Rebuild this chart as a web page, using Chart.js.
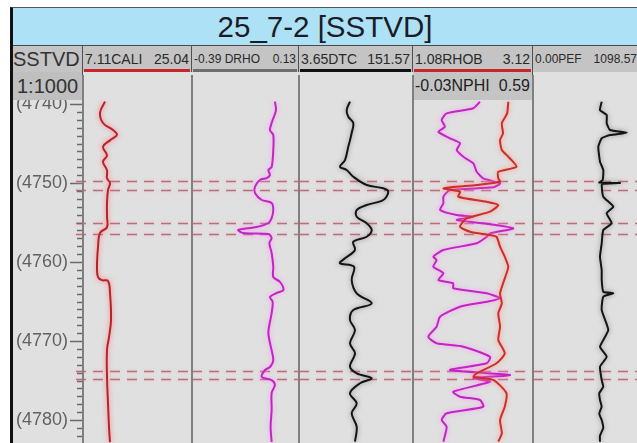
<!DOCTYPE html>
<html>
<head>
<meta charset="utf-8">
<title>25_7-2 [SSTVD]</title>
<script src="https://cdn.jsdelivr.net/npm/chart.js@4.4.1/dist/chart.umd.min.js"></script>
<style>
  html, body { margin: 0; padding: 0; background: #fff; }
  body { width: 637px; height: 443px; overflow: hidden; position: relative;
         font-family: "Liberation Sans", Arial, sans-serif; }
  .abs { position: absolute; box-sizing: border-box; }
  #frame { left: 10px; top: 7px; width: 640px; height: 440px;
           border-left: 3px solid #111; border-top: 1px solid #555; }
  #title { left: 13px; top: 8px; width: 624px; height: 38px; background: #ade2f6;
           border-bottom: 1px solid #4a4a4a; color: #1c1c28; font-size: 29.5px;
           line-height: 38px; text-align: center; }
  .hcell { background: #c4c4c4; color: #2a2a2a; display: flex; justify-content: space-between;
           align-items: center; padding: 0 2px 0 2px; white-space: nowrap; overflow: hidden;
           border-right: 1px solid #505050; }
  .track { background: #e0e0e0; }
  .sep { width: 2px; background: #808080; }
  canvas { position: absolute; }
</style>
</head>
<body>
<div id="frame" class="abs"></div>
<div id="title" class="abs">25_7-2 [SSTVD]</div>
<div id="layer"></div>
<script>
// ---- depth reference ----
const depthTop = 4739.49;
const depthBottom = 4782.91;
const depthTicks = [4740, 4750, 4760, 4770, 4780];
const markerDepths = [4749.75, 4750.9, 4755.1, 4756.4, 4773.8, 4774.8];

// ---- curve scale ranges (left, right) ----
const caliRange = [7.11, 25.04];
const drhoRange = [-0.39, 0.13];
const dtcRange = [3.65, 151.57];
const rhobRange = [1.08, 3.12];
const nphiRange = [-0.03, 0.59];
const pefRange = [0.00, 1098.57];

// ---- log samples: [depth, value] ----
const caliLog = [
  [4739.7, 10.73], [4741.1, 9.91], [4742.4, 10.40], [4743.3, 12.05], [4743.9, 12.70],
  [4744.6, 11.55], [4745.4, 10.40], [4746.5, 11.06], [4747.3, 10.40], [4748.4, 11.06],
  [4749.4, 11.06], [4750.0, 11.55], [4750.9, 11.22], [4752.5, 11.06], [4754.3, 11.06],
  [4755.6, 11.06], [4756.3, 9.91], [4758.1, 9.58], [4760.6, 9.41], [4761.9, 9.58],
  [4762.3, 10.24], [4762.4, 11.22], [4763.9, 11.55], [4767.3, 11.72], [4769.5, 11.39],
  [4771.1, 11.06], [4774.6, 11.06], [4777.8, 11.22], [4780.9, 11.39], [4782.8, 11.55]
];
const drhoLog = [
  [4739.71, 0.013], [4740.76, 0.018], [4742.41, -0.003], [4743.29, -0.011], [4743.92, 0.005],
  [4745.82, 0.005], [4747.97, -0.003], [4748.35, -0.019], [4748.99, -0.011], [4749.37, -0.027],
  [4749.62, -0.060], [4750.47, -0.084], [4751.27, -0.084], [4752.15, -0.051], [4752.53, -0.003],
  [4753.42, 0.005], [4754.43, -0.003], [4755.06, -0.019], [4755.57, -0.076], [4755.95, -0.165],
  [4756.33, -0.141], [4756.46, -0.019], [4756.96, -0.003], [4757.59, -0.014], [4758.86, -0.003],
  [4760.60, 0.005], [4761.90, 0.005], [4762.53, 0.038], [4763.54, 0.054], [4763.92, 0.022],
  [4764.43, -0.011], [4765.06, 0.002], [4766.46, -0.003], [4768.86, -0.019], [4770.25, -0.011],
  [4772.41, 0.005], [4773.29, -0.011], [4773.67, -0.035], [4774.56, -0.051], [4774.94, -0.003],
  [4775.57, 0.013], [4776.58, -0.003], [4778.73, -0.003], [4780.89, -0.008], [4782.78, -0.003]
];
const dtcLog = [
  [4739.71, 69.8], [4740.76, 65.5], [4741.61, 67.6], [4742.41, 74.1], [4743.67, 72.0],
  [4744.60, 69.8], [4745.41, 67.6], [4747.09, 63.3], [4747.94, 56.8], [4748.35, 65.5],
  [4749.20, 74.1], [4750.25, 91.5], [4750.67, 113.0], [4751.10, 119.5], [4752.15, 113.0],
  [4752.78, 91.5], [4753.42, 78.5], [4754.27, 78.5], [4755.10, 91.5], [4755.95, 98.0],
  [4756.80, 91.5], [4757.43, 74.1], [4758.48, 76.3], [4759.53, 63.3], [4760.16, 56.8],
  [4760.59, 75.0], [4762.28, 72.0], [4763.96, 78.5], [4765.23, 98.0], [4766.08, 74.1],
  [4767.34, 69.8], [4768.61, 76.3], [4770.29, 69.8], [4771.56, 76.3], [4773.25, 69.8],
  [4774.09, 78.5], [4774.72, 98.0], [4775.35, 82.8], [4776.61, 69.8], [4777.89, 78.5],
  [4779.15, 72.0], [4780.85, 78.5], [4782.75, 76.3]
];
const rhobLog = [
  [4739.71, 2.70], [4741.18, 2.68], [4742.44, 2.59], [4743.71, 2.61], [4744.56, 2.56],
  [4745.82, 2.59], [4746.67, 2.70], [4747.94, 2.84], [4748.57, 2.53], [4749.41, 2.53],
  [4749.84, 2.56], [4750.25, 2.16], [4750.67, 1.60], [4751.10, 1.88], [4751.73, 1.85],
  [4752.37, 2.33], [4752.78, 2.53], [4753.63, 2.39], [4754.47, 1.99], [4755.53, 1.88],
  [4756.16, 2.05], [4756.58, 2.39], [4756.80, 2.50], [4758.06, 2.56], [4759.33, 2.64],
  [4760.59, 2.70], [4761.43, 2.67], [4763.96, 2.56], [4765.23, 2.59], [4766.49, 2.53],
  [4768.19, 2.56], [4769.87, 2.53], [4771.56, 2.64], [4772.82, 2.50], [4774.09, 2.16],
  [4774.52, 2.11], [4774.94, 2.45], [4776.62, 2.67], [4778.32, 2.64], [4780.00, 2.56],
  [4781.68, 2.59], [4782.75, 2.53]
];
const nphiLog = [
  [4739.71, 0.316], [4740.54, 0.282], [4741.18, 0.144], [4742.03, 0.118], [4742.87, 0.135],
  [4743.51, 0.101], [4744.34, 0.161], [4744.97, 0.213], [4745.82, 0.196], [4746.67, 0.230],
  [4747.51, 0.282], [4748.57, 0.299], [4749.41, 0.333], [4750.04, 0.420], [4750.54, 0.385],
  [4750.89, 0.161], [4751.73, 0.127], [4752.57, 0.127], [4753.42, 0.110], [4754.05, 0.196],
  [4754.27, 0.282], [4754.68, 0.196], [4755.10, 0.333], [4755.73, 0.488], [4756.37, 0.368],
  [4756.80, 0.351], [4757.63, 0.299], [4758.48, 0.127], [4759.33, 0.075], [4759.75, 0.092],
  [4760.59, 0.075], [4761.43, 0.127], [4762.28, 0.101], [4762.70, 0.178], [4763.33, 0.178],
  [4763.96, 0.351], [4764.59, 0.420], [4765.03, 0.351], [4765.66, 0.213], [4766.92, 0.110],
  [4768.19, 0.092], [4769.46, 0.049], [4770.29, 0.092], [4770.72, 0.230], [4771.99, 0.368],
  [4772.82, 0.351], [4773.67, 0.161], [4774.30, 0.471], [4774.72, 0.282], [4775.15, 0.368],
  [4776.42, 0.178], [4777.05, 0.213], [4777.47, 0.316], [4778.32, 0.333], [4779.15, 0.144],
  [4780.00, 0.118], [4780.85, 0.144], [4782.75, 0.127]
];
const pefLog = [
  [4739.71, 725.7], [4740.76, 707.7], [4741.39, 778.5], [4742.44, 778.5], [4743.29, 813.4],
  [4743.63, 989.8], [4743.92, 813.4], [4744.34, 725.7], [4745.41, 689.8], [4747.30, 707.7],
  [4748.35, 742.6], [4749.62, 736.3], [4749.95, 700.0], [4750.00, 919.0], [4750.10, 736.3],
  [4750.25, 725.7], [4751.73, 742.6], [4753.00, 848.2], [4753.84, 778.5], [4755.10, 831.3],
  [4755.95, 742.6], [4757.63, 725.7], [4759.33, 707.7], [4761.01, 725.7], [4762.28, 725.7],
  [4763.76, 742.6], [4763.96, 848.2], [4764.39, 742.6], [4766.08, 725.7], [4768.61, 795.4],
  [4770.72, 707.7], [4771.99, 778.5], [4773.25, 707.7], [4774.94, 725.7], [4775.80, 742.0],
  [4776.60, 700.0], [4777.47, 707.7], [4778.30, 725.0], [4779.20, 700.0], [4780.00, 725.7],
  [4781.00, 742.0], [4782.00, 707.0], [4782.75, 707.7]
];

// ---- page layout ----
const HEAD_TOP = 46, HEAD_H = 26, ROW2_H = 28, PLOT_TOP = 100, PLOT_H = 343;
const layer = document.getElementById('layer');

function box(cls, css, html) {
  const d = document.createElement('div');
  d.className = 'abs ' + (cls || '');
  Object.assign(d.style, css);
  if (html !== undefined) d.innerHTML = html;
  layer.appendChild(d);
  return d;
}
const fmt = v => v.toFixed(2);

const columns = [
  { left: 13,  right: 83 },
  { left: 83,  right: 192, name: 'CALI', range: caliRange, sep: '', size: 14, line: '#c8262b' },
  { left: 192, right: 299, name: 'DRHO', range: drhoRange, sep: ' ', size: 12, line: '#6e6e6e' },
  { left: 299, right: 413, name: 'DTC',  range: dtcRange,  sep: '', size: 14, line: '#111111' },
  { left: 413, right: 533, name: 'RHOB', range: rhobRange, sep: '', size: 14, line: '#c8262b' },
  { left: 533, right: 640, name: 'PEF',  range: pefRange,  sep: '', size: 12, line: null }
];

// track backgrounds
columns.forEach(c => box('track', { left: c.left + 'px', top: (HEAD_TOP + HEAD_H) + 'px',
  width: (c.right - c.left) + 'px', height: (443 - HEAD_TOP - HEAD_H) + 'px' }));

// header row 1
columns.forEach((c, i) => {
  let html;
  if (i === 0) html = '<span style="font-size:20px;color:#333">SSTVD</span>';
  else html = `<span>${fmt(c.range[0])}${c.sep}${c.name}</span><span>${fmt(c.range[1])}</span>`;
  const cell = box('hcell', { left: c.left + 'px', top: HEAD_TOP + 'px', width: (c.right - c.left) + 'px',
    height: HEAD_H + 'px', fontSize: (c.size || 14) + 'px' }, html);
  if (i === 0) cell.style.paddingLeft = '0px';
  if (c.line) box('', { left: (c.left + 1) + 'px', top: (HEAD_TOP + HEAD_H - 3) + 'px',
    width: (c.right - c.left - 3) + 'px', height: '3px', background: c.line });
});

// header row 2: scale cell and second curve of the density track
box('hcell', { left: '13px', top: (HEAD_TOP + HEAD_H) + 'px', width: '70px', height: ROW2_H + 'px',
  fontSize: '20px', background: '#bfbfbf', paddingLeft: '4px' }, '<span style="color:#333">1:1000</span>');
box('hcell', { left: '413px', top: (HEAD_TOP + HEAD_H) + 'px', width: '120px', height: ROW2_H + 'px',
  fontSize: '16px', color: '#1e1e1e' },
  `<span>${fmt(nphiRange[0])}NPHI</span><span>${fmt(nphiRange[1])}</span>`);

// ---- chart plugins ----
const haloPlugin = {
  id: 'halo',
  beforeDatasetDraw(chart, args) {
    const ds = chart.data.datasets[args.index];
    chart.ctx.save();
    if (ds.halo) { chart.ctx.shadowColor = ds.halo; chart.ctx.shadowBlur = 5; }
  },
  afterDatasetDraw(chart) { chart.ctx.restore(); }
};

const markerPlugin = {
  id: 'markers',
  beforeDatasetsDraw(chart, args, opts) {
    const { ctx, chartArea, scales } = chart;
    ctx.save();
    ctx.setLineDash([10, 7]);
    ctx.lineWidth = 1.6;
    ctx.strokeStyle = 'rgba(168,98,112,0.85)';
    ctx.shadowColor = 'rgba(255,170,190,0.9)';
    ctx.shadowBlur = 3;
    markerDepths.forEach(d => {
      const py = Math.round(scales.y.getPixelForValue(d)) + 0.5;
      ctx.beginPath();
      ctx.moveTo(chartArea.left - (opts.extend || 0), py);
      ctx.lineTo(chartArea.right, py);
      ctx.stroke();
    });
    ctx.restore();
  }
};

const minorTickPlugin = {
  id: 'minorTicks',
  afterDraw(chart, args, opts) {
    if (!opts.enabled) return;
    const { ctx, chartArea, scales } = chart;
    ctx.save();
    ctx.strokeStyle = '#6a6a6a';
    ctx.lineWidth = 1.5;
    for (let d = Math.ceil(depthTop); d <= Math.floor(depthBottom); d++) {
      if (d % 10 === 0) continue;
      const py = Math.round(scales.y.getPixelForValue(d)) + 0.5;
      ctx.beginPath();
      ctx.moveTo(chartArea.left - 6, py);
      ctx.lineTo(chartArea.left, py);
      ctx.stroke();
    }
    ctx.restore();
  }
};

const toPoints = log => log.map(([d, v]) => ({ x: v, y: d }));

function curve(label, log, color, halo, tension, axis) {
  return { label, data: toPoints(log), borderColor: color, halo, borderWidth: 2,
           tension, pointRadius: 0, fill: false, xAxisID: axis || 'x' };
}

function trackChart(left, width, scalesX, datasets, withDepthAxis) {
  const cv = document.createElement('canvas');
  cv.width = width; cv.height = PLOT_H;
  cv.style.left = left + 'px'; cv.style.top = PLOT_TOP + 'px';
  cv.style.width = width + 'px'; cv.style.height = PLOT_H + 'px';
  layer.appendChild(cv);

  const y = { type: 'linear', reverse: true, min: depthTop, max: depthBottom, display: false };
  if (withDepthAxis) {
    Object.assign(y, {
      display: true, position: 'left',
      afterFit(s) { s.width = 70; s.paddingTop = 0; s.paddingBottom = 0; },
      afterBuildTicks(s) { s.ticks = depthTicks.map(v => ({ value: v })); },
      ticks: { callback: v => '(' + v + ')', color: '#626262', padding: 2, autoSkip: false,
               font: { size: 18, family: '"Liberation Sans", Arial, sans-serif' } },
      grid: { drawOnChartArea: false, drawTicks: true, tickLength: 13, tickColor: '#6a6a6a', tickWidth: 1.5 },
      border: { display: false }
    });
  }
  const scales = { y };
  Object.entries(scalesX).forEach(([id, r]) => {
    scales[id] = { type: 'linear', axis: 'x', min: r[0], max: r[1], display: false };
  });

  return new Chart(cv, {
    type: 'line',
    data: { datasets },
    options: {
      responsive: false, animation: false, devicePixelRatio: 1,
      indexAxis: 'y',
      layout: { padding: 0 },
      scales,
      plugins: {
        legend: { display: false }, tooltip: { enabled: false },
        markers: { extend: withDepthAxis ? 7 : 0 },
        minorTicks: { enabled: !!withDepthAxis }
      }
    },
    plugins: [markerPlugin, haloPlugin, minorTickPlugin]
  });
}

trackChart(13, 179, { x: caliRange },
  [curve('CALI', caliLog, '#b8222c', 'rgba(255,110,110,0.95)', 0.4)], true);
trackChart(192, 107, { x: drhoRange },
  [curve('DRHO', drhoLog, '#c424c4', 'rgba(245,150,245,0.95)', 0.3)]);
trackChart(299, 114, { x: dtcRange },
  [curve('DTC', dtcLog, '#141414', 'rgba(120,120,120,0.8)', 0.35)]);
trackChart(413, 120, { x: rhobRange, x2: nphiRange }, [
  curve('RHOB', rhobLog, '#c92f2c', 'rgba(255,140,120,0.95)', 0.2),
  curve('NPHI', nphiLog, '#c424c4', 'rgba(245,150,245,0.95)', 0.2, 'x2')
]);
trackChart(533, 104, { x: pefRange },
  [curve('PEF', pefLog, '#141414', 'rgba(120,120,120,0.8)', 0.15)]);

// track separators over the plot area
[83, 192, 299, 413, 533].forEach(x => box('sep', { left: (x - 1) + 'px', top: (HEAD_TOP + HEAD_H + 3) + 'px',
  height: (443 - HEAD_TOP - HEAD_H) + 'px' }));
</script>
</body>
</html>
